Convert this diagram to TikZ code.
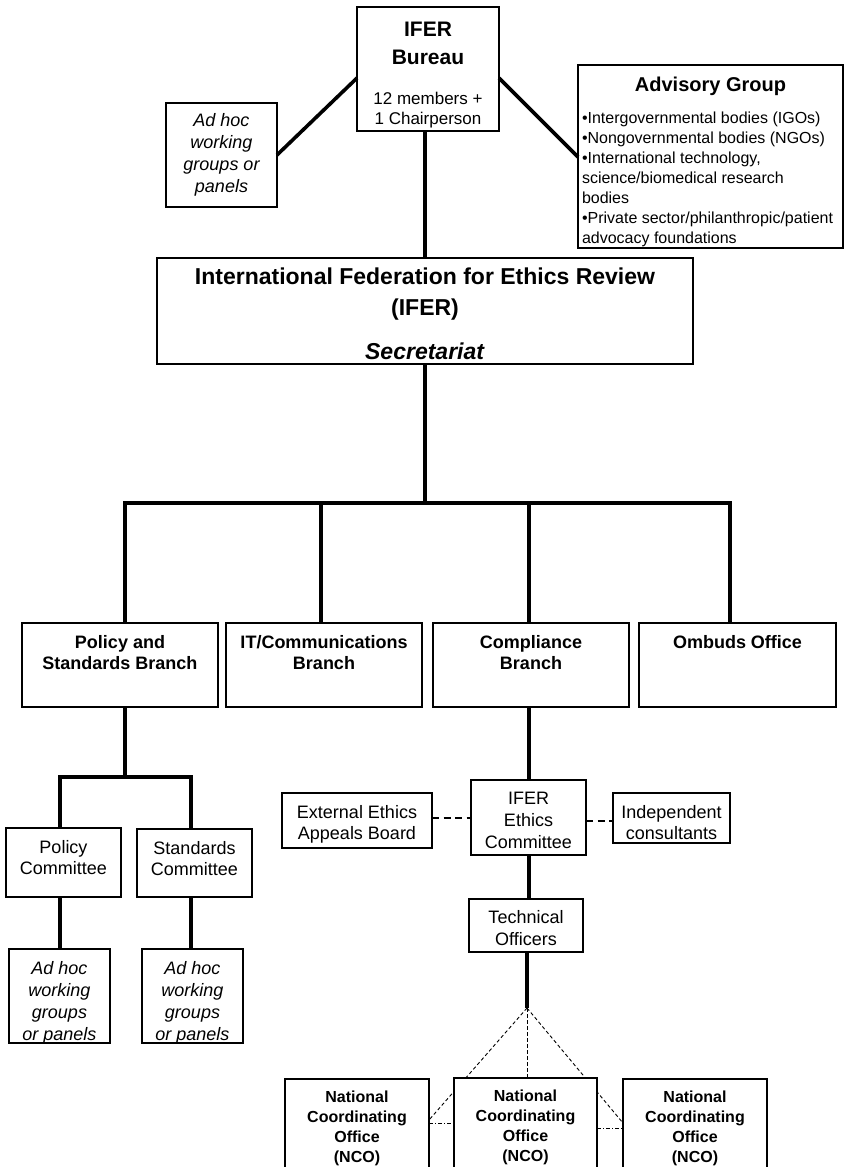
\documentclass[tikz,border=0pt]{standalone}
\usepackage{fontspec}
\setmainfont{Liberation Sans}
\usetikzlibrary{backgrounds}
% #1 width, #2 height, #3 top pad, #4 font setup, #5 text
\newcommand\bxt[5]{\parbox[c][#2pt][t]{#1pt}{\centering#4\vspace*{#3pt}\strut#5\par}}
\tikzset{
  box/.style={draw, line width=1.6pt, fill=white, inner sep=0pt, outer sep=0pt},
  conn/.style={line width=3.6pt},
  dconn/.style={line width=2.6pt, dash pattern=on 7pt off 4.5pt},
  dotc/.style={line width=0.9pt, dash pattern=on 3.5pt off 2.5pt},
  dashdotc/.style={line width=0.9pt, dash pattern=on 4pt off 2pt on 1pt off 2pt},
}
\begin{document}
\begin{tikzpicture}[x=1pt,y=-1pt]
\useasboundingbox (0,0) rectangle (845,1167);
\clip (0,0) rectangle (845,1167);

% top level
\node[box] (bureau) at (428,69) {\bxt{142}{124}{9.5}{\fontsize{21pt}{28pt}\selectfont\bfseries}{IFER\\Bureau\par{\mdseries\fontsize{17pt}{20pt}\selectfont\vspace*{20pt}12 members +\\1 Chairperson\par}}};
\node[box] (adhoc0) at (221.5,155) {\bxt{111}{104}{7.7}{\fontsize{18pt}{22pt}\selectfont\itshape}{Ad hoc\\working\\groups or\\panels}};
\node[box] (advis) at (710.5,156.5) {\parbox[c][183pt][t]{265pt}{\centering\fontsize{20pt}{24pt}\selectfont\bfseries\vspace*{10pt}\strut Advisory Group\par
  \raggedright\leftskip=4pt\mdseries\fontsize{16pt}{20pt}\selectfont\vspace*{11.6pt}%
  •Intergovernmental bodies (IGOs)\\•Nongovernmental bodies (NGOs)\\•International technology,\\science/biomedical research\\bodies\\•Private sector/philanthropic/patient\\advocacy foundations\par}};
\node[box] (ifer) at (425,311) {\bxt{536}{106}{5.1}{\fontsize{23pt}{31pt}\selectfont\bfseries}{International Federation for Ethics Review\\(IFER)\\[13pt]\textit{Secretariat}}};

% branches
\node[box] (policy) at (120,665) {\bxt{196}{84}{10.4}{\fontsize{18pt}{21pt}\selectfont\bfseries}{Policy and\\Standards Branch}};
\node[box] (itc) at (324,665) {\bxt{196}{84}{10.4}{\fontsize{18pt}{21pt}\selectfont\bfseries}{IT/Communications\\Branch}};
\node[box] (compl) at (531,665) {\bxt{196}{84}{10.4}{\fontsize{18pt}{21pt}\selectfont\bfseries}{Compliance\\Branch}};
\node[box] (ombuds) at (737.5,665) {\bxt{197}{84}{10.4}{\fontsize{18pt}{21pt}\selectfont\bfseries}{Ombuds Office}};

% policy side
\node[box] (pcom) at (63.5,862.5) {\bxt{115}{69}{10.4}{\fontsize{18pt}{21pt}\selectfont}{Policy\\Committee}};
\node[box] (scom) at (194.5,863) {\bxt{115}{68}{10.4}{\fontsize{18pt}{21pt}\selectfont}{Standards\\Committee}};
\node[box] (ah1) at (59.5,996) {\bxt{101}{94}{9.7}{\fontsize{18pt}{22pt}\selectfont\itshape}{Ad hoc\\working\\groups\\or panels}};
\node[box] (ah2) at (192.5,996) {\bxt{101}{94}{9.7}{\fontsize{18pt}{22pt}\selectfont\itshape}{Ad hoc\\working\\groups\\or panels}};

% compliance side
\node[box] (ext) at (357,820.5) {\bxt{150}{55}{10.4}{\fontsize{18pt}{21pt}\selectfont}{External Ethics\\Appeals Board}};
\node[box] (ethics) at (528.5,817.5) {\bxt{115}{75}{8.7}{\fontsize{18pt}{22pt}\selectfont}{IFER\\Ethics\\Committee}};
\node[box] (indep) at (671.5,818) {\bxt{117}{50}{10.4}{\fontsize{18pt}{21pt}\selectfont}{Independent\\consultants}};
\node[box] (tech) at (526,925.5) {\bxt{114}{53}{8.7}{\fontsize{18pt}{22pt}\selectfont}{Technical\\Officers}};

% NCOs
\node[box] (nco1) at (357,1129) {\bxt{144}{100}{9.4}{\fontsize{16pt}{20pt}\selectfont\bfseries}{National\\Coordinating\\Office\\(NCO)}};
\node[box] (nco2) at (525.5,1128) {\bxt{143}{100}{9.4}{\fontsize{16pt}{20pt}\selectfont\bfseries}{National\\Coordinating\\Office\\(NCO)}};
\node[box] (nco3) at (695,1129) {\bxt{144}{100}{9.4}{\fontsize{16pt}{20pt}\selectfont\bfseries}{National\\Coordinating\\Office\\(NCO)}};

% reference coordinates
\coordinate (b1) at (0,78);
\coordinate (b2) at (0,155);
\coordinate (b3) at (0,157);
\coordinate (bus) at (425,503);
\coordinate (d1) at (125,503);
\coordinate (d2) at (321,503);
\coordinate (d3) at (529,503);
\coordinate (d4) at (730,503);
\coordinate (s0) at (125,777);
\coordinate (s1) at (60,777);
\coordinate (s2) at (191,777);
\coordinate (c0) at (529,0);
\coordinate (apex) at (527,1008);
\coordinate (e1) at (0,818);
\coordinate (e2) at (0,821);
\coordinate (n1) at (0,1120);
\coordinate (n2) at (0,1123);
\coordinate (n3) at (0,1128);

% connectors
\draw[conn] (bureau.west |- b1) -- (adhoc0.east |- b2);
\draw[conn] (bureau.east |- b1) -- (advis.west |- b3);
\draw[conn] (ifer.north |- bureau.south) -- (ifer.north);
\draw[conn] (ifer.south) -- (bus);
\draw[conn] (policy.north -| d1) -- (d1) -- (d4) -- (ombuds.north -| d4);
\draw[conn] (d2) -- (itc.north -| d2);
\draw[conn] (d3) -- (compl.north -| d3);
\draw[conn] (policy.south -| s0) -- (s0);
\draw[conn] (pcom.north -| s1) -- (s1) -- (s2) -- (scom.north -| s2);
\draw[conn] (pcom.south -| s1) -- (ah1.north -| s1);
\draw[conn] (scom.south -| s2) -- (ah2.north -| s2);
\draw[conn] (compl.south -| c0) -- (ethics.north -| c0);
\draw[conn] (ethics.south -| c0) -- (tech.north -| c0);
\draw[conn] (tech.south -| apex) -- (apex);
\draw[dconn] (ext.east |- e1) -- (ethics.west |- e1);
\draw[dconn] (ethics.east |- e2) -- (indep.west |- e2);

\begin{pgfonlayer}{background}
\draw[dotc] (apex) -- (nco1.east |- n1);
\draw[dotc] (apex) -- (nco3.west |- n2);
\draw[dotc] (apex) -- (nco2.north -| apex);
\draw[dashdotc] (nco1.east |- n2) -- (nco2.west |- n2);
\draw[dashdotc] (nco2.east |- n3) -- (nco3.west |- n3);
\end{pgfonlayer}
\end{tikzpicture}
\end{document}
